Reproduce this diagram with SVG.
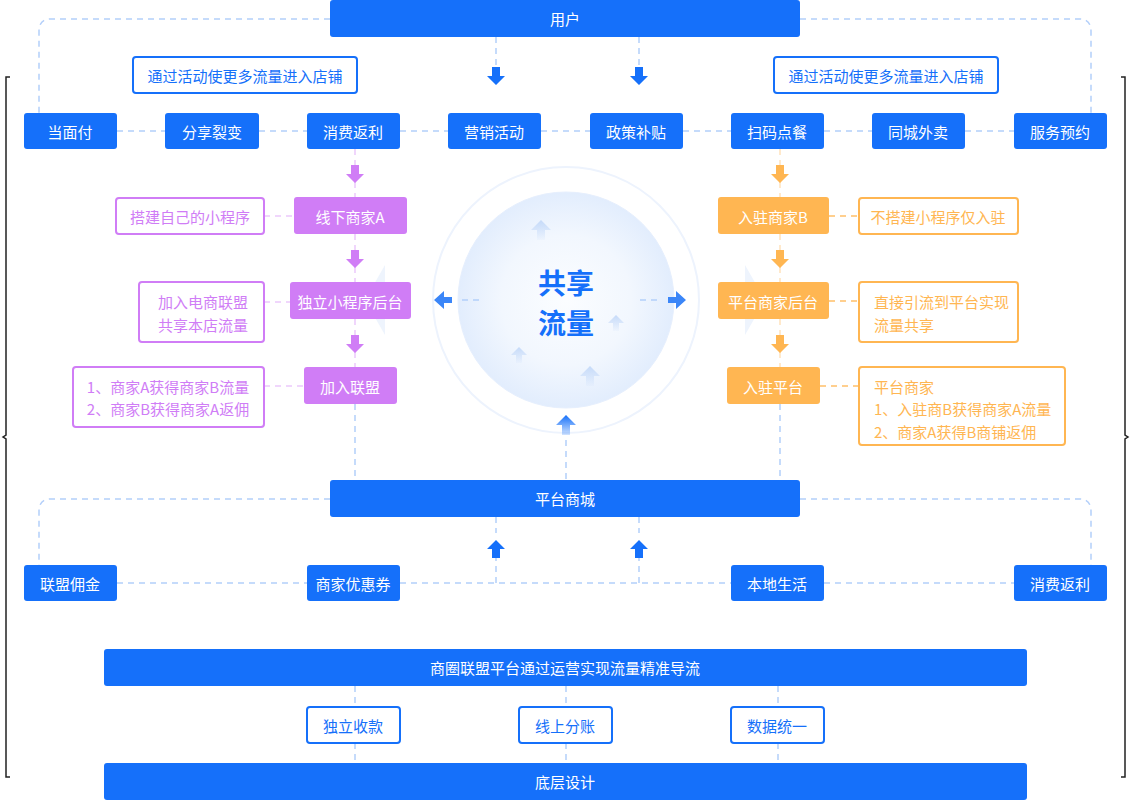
<svg xmlns="http://www.w3.org/2000/svg" width="1131" height="800" viewBox="0 0 1131 800">
<style>
text{font-family:"Noto Sans CJK SC","Liberation Sans",sans-serif;font-size:15px;text-anchor:middle;dominant-baseline:central}
.b{fill:#1570fa}.bt{fill:#fff}
.p{fill:#d07df6}.o{fill:#ffb652}
.ob{fill:#fff;stroke:#1570fa;stroke-width:2}
.pb{fill:#fff;stroke:#d07df6;stroke-width:2}
.obx{fill:#fff;stroke:#ffb652;stroke-width:2}
.d{fill:none;stroke:#b3cffa;stroke-width:1.5;stroke-dasharray:6 5}
.dp{fill:none;stroke:#ecc9fb;stroke-width:1.5;stroke-dasharray:6 5}
.do{fill:none;stroke:#ffcf8e;stroke-width:2;stroke-dasharray:6 5}
</style>
<defs>
<radialGradient id="g" cx="0.5" cy="0.5" r="0.5"><stop offset="0" stop-color="#fbfdff"/><stop offset="0.6" stop-color="#f2f7fe"/><stop offset="1" stop-color="#e2edfd"/></radialGradient>
<linearGradient id="ua" x1="0" y1="0" x2="0" y2="1"><stop offset="0" stop-color="#1570fa"/><stop offset="1" stop-color="#1570fa" stop-opacity="0.2"/></linearGradient>
<linearGradient id="fa" x1="0" y1="0" x2="0" y2="1"><stop offset="0" stop-color="#c5daf9"/><stop offset="1" stop-color="#c5daf9" stop-opacity="0.1"/></linearGradient>
<path id="arr" d="M-4,-9H4V0H9L0,9L-9,0H-4Z"/>
</defs>
<rect width="1131" height="800" fill="#fff"/>
<path d="M10,77H6V435L3,437L6,439V777H10" fill="none" stroke="#222" stroke-width="1.5"/>
<path d="M1121,77H1125V435L1128,437L1125,439V777H1121" fill="none" stroke="#222" stroke-width="1.5"/>
<g id="center">
<circle cx="566" cy="300" r="133" fill="none" stroke="#edf3fd" stroke-width="2"/>
<circle cx="566" cy="300" r="108" fill="url(#g)" stroke="#e6effd"/>
<path d="M365,300L385,265V335Z" fill="#eef4fd"/>
<path d="M765,300L745,265V335Z" fill="#eef4fd"/>
<g fill="url(#fa)">
<path d="M541,220l10,10h-6v10h-8v-10h-6z"/>
<path d="M616,315l8,8h-5v8h-6v-8h-5z"/>
<path d="M519,347l8,8h-5v8h-6v-8h-5z"/>
<path d="M590,366l10,10h-6v10h-8v-10h-6z"/>
</g>
<text x="566" y="282" style="font-size:28px;font-weight:bold;fill:#1570fa">共享</text>
<text x="566" y="322" style="font-size:28px;font-weight:bold;fill:#1570fa">流量</text>
<path d="M434,300l10,-9v6h8v6h-8v6z" fill="#3b86f8"/>
<path d="M686,300l-10,-9v6h-8v6h8v6z" fill="#3b86f8"/>
<path d="M462,300h18M640,300h18" class="d"/>
<path d="M566,415l10,10h-6v10h-8v-10h-6z" fill="url(#ua)"/>
</g>
<g id="connectors">
<path d="M330,19H51Q39,19 39,31V113M800,19H1079Q1091,19 1091,31V113" class="d"/>
<path d="M117,131H165M259,131H307M400,131H448M541,131H590M683,131H731M824,131H872M965,131H1014" class="d"/>
<path d="M496,37V70M639,37V70" class="d"/>
<use href="#arr" x="496" y="76" class="b"/><use href="#arr" x="639" y="76" class="b"/>
<path d="M355,149V197M355,234V282M355,319V367" class="dp"/>
<use href="#arr" x="355" y="174" class="p"/><use href="#arr" x="355" y="259" class="p"/><use href="#arr" x="355" y="344" class="p"/>
<path d="M264,216H294M264,302H290M264,386H304" class="dp"/>
<path d="M780,149V197M780,234V282M780,319V367" class="do" style="stroke-width:1.5;opacity:.6"/>
<use href="#arr" x="780" y="174" class="o"/><use href="#arr" x="780" y="259" class="o"/><use href="#arr" x="780" y="344" class="o"/>
<path d="M829,216H859M829,301H859M820,386H859" class="do"/>
<path d="M355,404V480M780,404V480M566,440V480" class="d"/>
<path d="M330,499H51Q39,499 39,511V565M800,499H1079Q1091,499 1091,511V565" class="d"/>
<path d="M117,583H307M400,583H731M824,583H1014" class="d"/>
<path d="M496,583V557M639,583V557M496,517V533M639,517V533" class="d"/>
<use href="#arr" x="496" y="549" class="b" transform="rotate(180 496 549)"/>
<use href="#arr" x="639" y="549" class="b" transform="rotate(180 639 549)"/>
<path d="M355,686V707M355,743V763M566,686V707M566,743V763M778,686V707M778,743V763" class="d"/>
</g>
<g id="n-user"><rect x="330" y="0" width="470" height="37" rx="3" class="b"/><text x="565" y="18" class="bt">用户</text></g>
<g id="n-act1"><rect x="133" y="57" width="224" height="36" rx="3" class="ob"/><text x="245" y="75" style="fill:#1570fa">通过活动使更多流量进入店铺</text></g>
<g id="n-act2"><rect x="774" y="57" width="224" height="36" rx="3" class="ob"/><text x="886" y="75" style="fill:#1570fa">通过活动使更多流量进入店铺</text></g>
<g id="row1">
<rect x="24" y="113" width="93" height="36" rx="3" class="b"/><text x="70" y="131" class="bt">当面付</text>
<rect x="165" y="113" width="94" height="36" rx="3" class="b"/><text x="212" y="131" class="bt">分享裂变</text>
<rect x="307" y="113" width="93" height="36" rx="3" class="b"/><text x="353" y="131" class="bt">消费返利</text>
<rect x="448" y="113" width="93" height="36" rx="3" class="b"/><text x="494" y="131" class="bt">营销活动</text>
<rect x="590" y="113" width="93" height="36" rx="3" class="b"/><text x="636" y="131" class="bt">政策补贴</text>
<rect x="731" y="113" width="93" height="36" rx="3" class="b"/><text x="777" y="131" class="bt">扫码点餐</text>
<rect x="872" y="113" width="93" height="36" rx="3" class="b"/><text x="918" y="131" class="bt">同城外卖</text>
<rect x="1014" y="113" width="93" height="36" rx="3" class="b"/><text x="1060" y="131" class="bt">服务预约</text>
</g>
<g id="purple">
<rect x="294" y="197" width="113" height="37" rx="3" class="p"/><text x="350" y="216" class="bt">线下商家A</text>
<rect x="290" y="282" width="121" height="37" rx="3" class="p"/><text x="350" y="301" class="bt">独立小程序后台</text>
<rect x="304" y="367" width="93" height="37" rx="3" class="p"/><text x="350" y="386" class="bt">加入联盟</text>
<rect x="116" y="198" width="148" height="36" rx="3" class="pb"/><text x="190" y="216" style="fill:#d07df6">搭建自己的小程序</text>
<rect x="139" y="282" width="125" height="60" rx="3" class="pb"/><text x="203" y="301" style="fill:#d07df6">加入电商联盟</text><text x="203" y="324" style="fill:#d07df6">共享本店流量</text>
<rect x="73" y="367" width="191" height="60" rx="3" class="pb"/><text x="168" y="386" style="fill:#d07df6">1、商家A获得商家B流量</text><text x="168" y="408" style="fill:#d07df6">2、商家B获得商家A返佣</text>
</g>
<g id="orange">
<rect x="718" y="197" width="111" height="37" rx="3" class="o"/><text x="773" y="216" class="bt">入驻商家B</text>
<rect x="718" y="282" width="111" height="37" rx="3" class="o"/><text x="773" y="301" class="bt">平台商家后台</text>
<rect x="727" y="367" width="93" height="37" rx="3" class="o"/><text x="773" y="386" class="bt">入驻平台</text>
<rect x="859" y="198" width="159" height="36" rx="3" class="obx"/><text x="938" y="216" style="fill:#ffb652">不搭建小程序仅入驻</text>
<rect x="859" y="282" width="159" height="60" rx="3" class="obx"/><text x="874" y="301" style="fill:#ffb652;text-anchor:start">直接引流到平台实现</text><text x="874" y="324" style="fill:#ffb652;text-anchor:start">流量共享</text>
<rect x="859" y="367" width="206" height="78" rx="3" class="obx"/><text x="874" y="386" style="fill:#ffb652;text-anchor:start">平台商家</text><text x="874" y="408" style="fill:#ffb652;text-anchor:start">1、入驻商B获得商家A流量</text><text x="874" y="431" style="fill:#ffb652;text-anchor:start">2、商家A获得B商铺返佣</text>
</g>
<g id="n-mall"><rect x="330" y="480" width="470" height="37" rx="3" class="b"/><text x="565" y="498" class="bt">平台商城</text></g>
<g id="row2">
<rect x="24" y="565" width="93" height="36" rx="3" class="b"/><text x="70" y="583" class="bt">联盟佣金</text>
<rect x="307" y="565" width="93" height="36" rx="3" class="b"/><text x="353" y="583" class="bt">商家优惠券</text>
<rect x="731" y="565" width="93" height="36" rx="3" class="b"/><text x="777" y="583" class="bt">本地生活</text>
<rect x="1014" y="565" width="93" height="36" rx="3" class="b"/><text x="1060" y="583" class="bt">消费返利</text>
</g>
<g id="n-ops"><rect x="104" y="649" width="923" height="37" rx="3" class="b"/><text x="565" y="667" class="bt">商圈联盟平台通过运营实现流量精准导流</text></g>
<g id="row3">
<rect x="307" y="707" width="93" height="36" rx="3" class="ob"/><text x="353" y="725" style="fill:#1570fa">独立收款</text>
<rect x="519" y="707" width="93" height="36" rx="3" class="ob"/><text x="565" y="725" style="fill:#1570fa">线上分账</text>
<rect x="731" y="707" width="93" height="36" rx="3" class="ob"/><text x="777" y="725" style="fill:#1570fa">数据统一</text>
</g>
<g id="n-base"><rect x="104" y="763" width="923" height="37" rx="3" class="b"/><text x="565" y="781" class="bt">底层设计</text></g>
</svg>
